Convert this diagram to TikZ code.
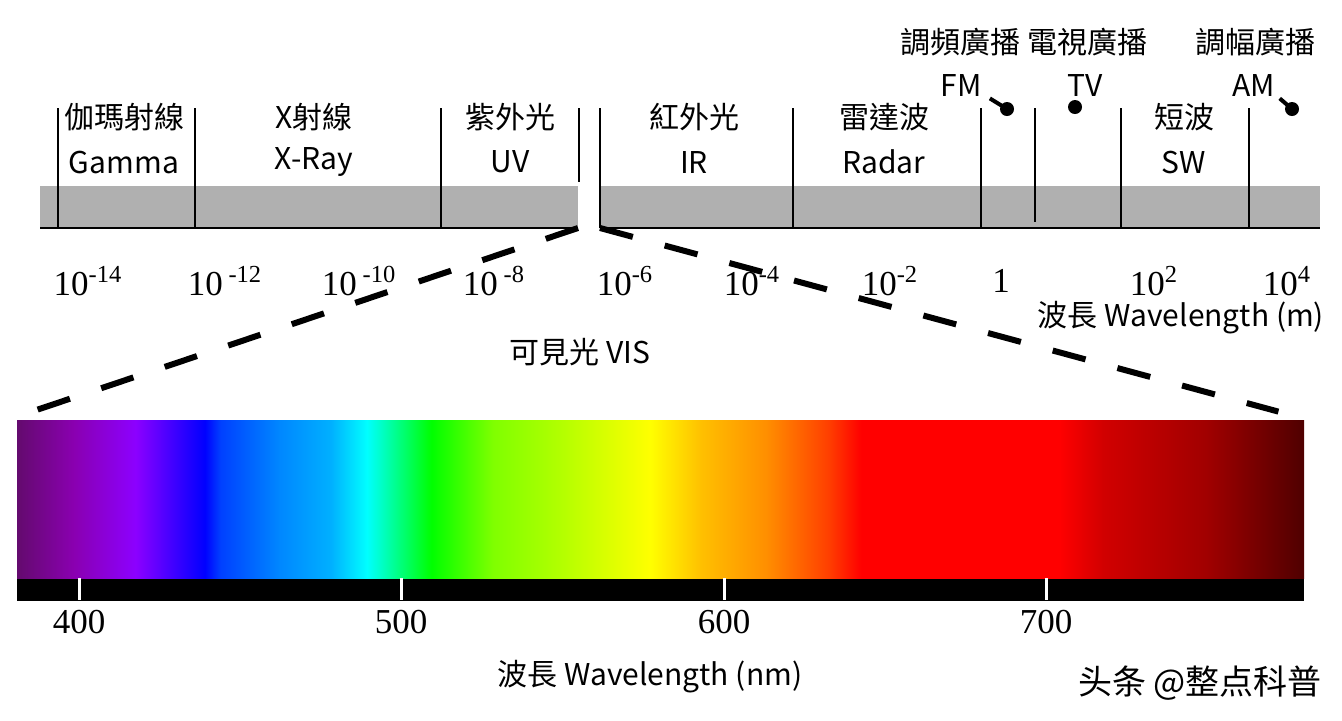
\documentclass[tikz,border=0pt]{standalone}
\usepackage{fontspec}
\setmainfont{Noto Sans CJK TC}
\newfontfamily\numfont{Liberation Serif}
\newfontfamily\scfont{Noto Sans CJK SC}
\usetikzlibrary{positioning}

\definecolor{bandgray}{RGB}{176,176,176}

% visible spectrum, 380--780 nm mapped onto 25bp--75bp
\pgfdeclarehorizontalshading{visspec}{100bp}{%
  rgb(0bp)=(0.39,0.04,0.43); rgb(25bp)=(0.39,0.04,0.43);
  rgb(27.2bp)=(0.54,0,0.69); rgb(29.6bp)=(0.55,0,1);
  rgb(32.3bp)=(0,0,1); rgb(32.9bp)=(0,0.25,1);
  rgb(35.2bp)=(0,0.53,1); rgb(37.2bp)=(0,0.69,1);
  rgb(38.6bp)=(0,1,1); rgb(41.1bp)=(0,1,0);
  rgb(43.5bp)=(0.5,1,0); rgb(46bp)=(0.69,1,0);
  rgb(49.6bp)=(1,1,0); rgb(51.6bp)=(1,0.75,0);
  rgb(54.1bp)=(1,0.56,0); rgb(56.5bp)=(1,0.25,0);
  rgb(57.8bp)=(1,0,0); rgb(65.5bp)=(1,0,0);
  rgb(67.2bp)=(0.82,0,0); rgb(71.2bp)=(0.63,0,0);
  rgb(75bp)=(0.31,0,0); rgb(100bp)=(0.31,0,0)}

\begin{document}
\begin{tikzpicture}[x=0.5pt, y=-0.5pt,
  sep/.style={line width=1pt},
  base/.style={line width=1.2pt},
  lbl/.style={inner sep=0pt, font=\fontsize{15}{15}\selectfont},
  num/.style={inner sep=0pt, font=\numfont\fontsize{17.5}{17.5}\selectfont},
  dot/.style={circle, fill=black, inner sep=0pt, minimum size=7pt},
  stem/.style={line width=2pt},
  specbar/.style={shading=visspec, minimum width=643.5pt, minimum height=79pt,
                  inner sep=0pt},
  nmaxis/.style={fill=black, minimum width=643.5pt, minimum height=11pt,
                 inner sep=0pt},
  zoomln/.style={line width=3pt, dash pattern=on 17pt off 16.5pt}]

\useasboundingbox (0,0) rectangle (1342,720);

% wavelength band (m), split where the visible part sits
\fill[bandgray] (40,186) rectangle (578,228);
\fill[bandgray] (600,186) rectangle (1320,228);
\draw[base] (40,228) -- (578,228);
\draw[base] (600,228) -- (1320,228);
\foreach \x in {58,195,441,600,793,981,1121,1249}
  \draw[sep] (\x,108) -- (\x,228);
\draw[sep] (579,108) -- (579,182);
\draw[sep] (1035,108) -- (1035,222);
\coordinate (gapL) at (578,228);
\coordinate (gapR) at (600,228);

\foreach \x/\zh/\en/\id in {124/伽瑪射線/Gamma/gam, 314/X射線/X-Ray/xr,
    510/紫外光/UV/uv, 694/紅外光/IR/ir, 884/雷達波/Radar/rad, 1184/短波/SW/sw} {
  \node[lbl] (\id zh) at (\x,117) {\zh};
  \node[lbl] (\id en) at (\x,162) {\en};
}

\node[lbl] (fmzh) at (960,42) {調頻廣播};
\node[lbl] (tvzh) at (1087,42) {電視廣播};
\node[lbl] (amzh) at (1255,42) {調幅廣播};
\node[lbl] (fm) at (961,85) {FM};
\node[lbl] (tv) at (1085,85) {TV};
\node[lbl] (am) at (1254,85) {AM};
\node[dot] (fmdot) at (1007,109) {};
\node[dot] (tvdot) at (1075,107) {};
\node[dot] (amdot) at (1292,109) {};
\draw[stem] ([xshift=4pt,yshift=-1pt]fm.south east) -- (fmdot.center);
\draw[stem] ([xshift=2pt,yshift=-1pt]am.south east) -- (amdot.center);

% powers of ten
\node[num] (e14) at (88,281) {10\textsuperscript{-14}};
\node[num] (e12) at (225,281) {10\,\textsuperscript{-12}};
\node[num] (e10) at (359,281) {10\,\textsuperscript{-10}};
\node[num] (e8) at (494,281) {10\,\textsuperscript{-8}};
\node[num] (e6) at (625,281) {10\textsuperscript{-6}};
\node[num] (e4) at (752,281) {10\textsuperscript{-4}};
\node[num] (e2) at (890,281) {10\textsuperscript{-2}};
\node[num] (e0) at (1001,281) {1};
\node[num] (p2) at (1154,281) {10\textsuperscript{2}};
\node[num] (p4) at (1287,281) {10\textsuperscript{4}};
\node[lbl] (mlab) at (1181,318) {波長 Wavelength (m)};
\node[lbl] (vislab) at (580,352) {可見光 VIS};

% visible spectrum and nm scale
\node[specbar] (vis) at (660.5,499) {};
\node[nmaxis, below=0pt of vis] (nm) {};
\foreach \x/\n in {79/400, 401/500, 724/600, 1046/700} {
  \draw[white, line width=1.5pt] (\x,578) -- (\x,600);
  \node[num] (nm\n) at (\x,622) {\n};
}
\node[lbl] (nmlab) at (650,677) {波長 Wavelength (nm)};
\node[lbl, font=\scfont\fontsize{17}{17}\selectfont] (mark) at (1200,683) {头条 @整点科普};

% zoom lines
\draw[zoomln] (gapL) -- ([shift={(21,-10)}]vis.north west);
\draw[zoomln] (gapR) -- ([shift={(-26,-8)}]vis.north east);
\end{tikzpicture}
\end{document}
